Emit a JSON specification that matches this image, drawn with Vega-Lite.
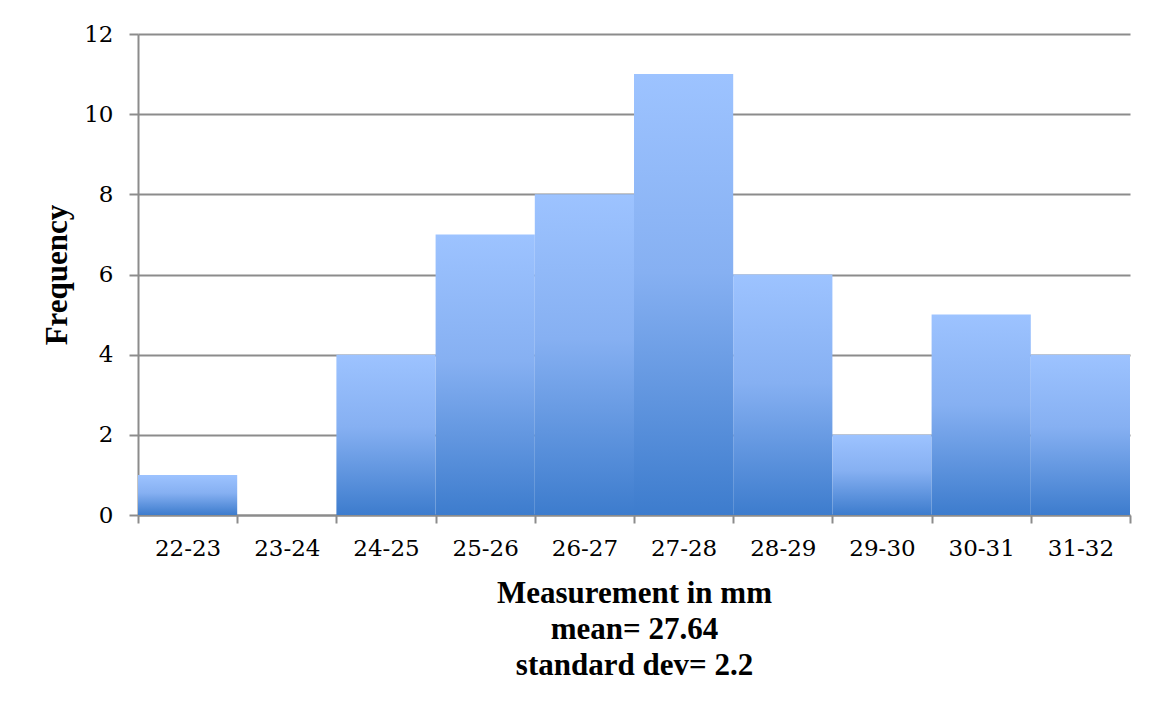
{
  "$schema": "https://vega.github.io/schema/vega-lite/v6.json",
  "autosize": {"type": "none"},
  "padding": {"left": 138, "top": 34, "right": 23, "bottom": 198},
  "width": 992,
  "height": 481,
  "background": "white",
  "config": {"view": {"stroke": null}},
  "data": {
    "values": [
      {"bin": "22-23", "lo": 22, "hi": 23, "count": 1},
      {"bin": "23-24", "lo": 23, "hi": 24, "count": 0},
      {"bin": "24-25", "lo": 24, "hi": 25, "count": 4},
      {"bin": "25-26", "lo": 25, "hi": 26, "count": 7},
      {"bin": "26-27", "lo": 26, "hi": 27, "count": 8},
      {"bin": "27-28", "lo": 27, "hi": 28, "count": 11},
      {"bin": "28-29", "lo": 28, "hi": 29, "count": 6},
      {"bin": "29-30", "lo": 29, "hi": 30, "count": 2},
      {"bin": "30-31", "lo": 30, "hi": 31, "count": 5},
      {"bin": "31-32", "lo": 31, "hi": 32, "count": 4}
    ]
  },
  "mark": {
    "type": "bar",
    "color": {
      "gradient": "linear",
      "x1": 0, "y1": 0, "x2": 0, "y2": 1,
      "stops": [
        {"offset": 0, "color": "#9DC3FF"},
        {"offset": 0.45, "color": "#86B0F2"},
        {"offset": 1, "color": "#3D7CCD"}
      ]
    }
  },
  "encoding": {
    "x": {
      "field": "lo",
      "type": "quantitative",
      "scale": {"domain": [22, 32], "nice": false, "zero": false},
      "axis": {
        "values": [22, 22.5, 23, 23.5, 24, 24.5, 25, 25.5, 26, 26.5, 27, 27.5, 28, 28.5, 29, 29.5, 30, 30.5, 31, 31.5, 32],
        "labelExpr": "datum.value % 1 == 0.5 ? floor(datum.value) + '-' + ceil(datum.value) : ''",
        "tickOpacity": {"condition": {"test": "datum.value % 1 == 0.5", "value": 0}, "value": 1},
        "grid": false,
        "domainColor": "#8c8c8c",
        "domainWidth": 2,
        "tickColor": "#8c8c8c",
        "tickWidth": 2,
        "tickSize": 8,
        "labelFont": "DejaVu Serif",
        "labelFontSize": 23,
        "labelColor": "black",
        "labelPadding": 14,
        "labelFlush": false,
        "labelOverlap": false,
        "title": ["Measurement in mm", "mean= 27.64", "standard dev= 2.2"],
        "titleFont": "Liberation Serif",
        "titleFontSize": 31,
        "titleFontWeight": "bold",
        "titleColor": "black",
        "titleLineHeight": 36,
        "titlePadding": 18
      }
    },
    "x2": {"field": "hi"},
    "y": {
      "field": "count",
      "type": "quantitative",
      "scale": {"domain": [0, 12], "nice": false},
      "axis": {
        "values": [0, 2, 4, 6, 8, 10, 12],
        "gridColor": "#8c8c8c",
        "gridWidth": 2,
        "domainColor": "#8c8c8c",
        "domainWidth": 2,
        "tickColor": "#8c8c8c",
        "tickWidth": 2,
        "tickSize": 9,
        "labelFont": "DejaVu Serif",
        "labelFontSize": 23,
        "labelColor": "black",
        "labelPadding": 16,
        "title": "Frequency",
        "titleFont": "Liberation Serif",
        "titleFontSize": 31,
        "titleFontWeight": "bold",
        "titleColor": "black",
        "titlePadding": 10
      }
    },
    "y2": {"datum": 0}
  }
}
